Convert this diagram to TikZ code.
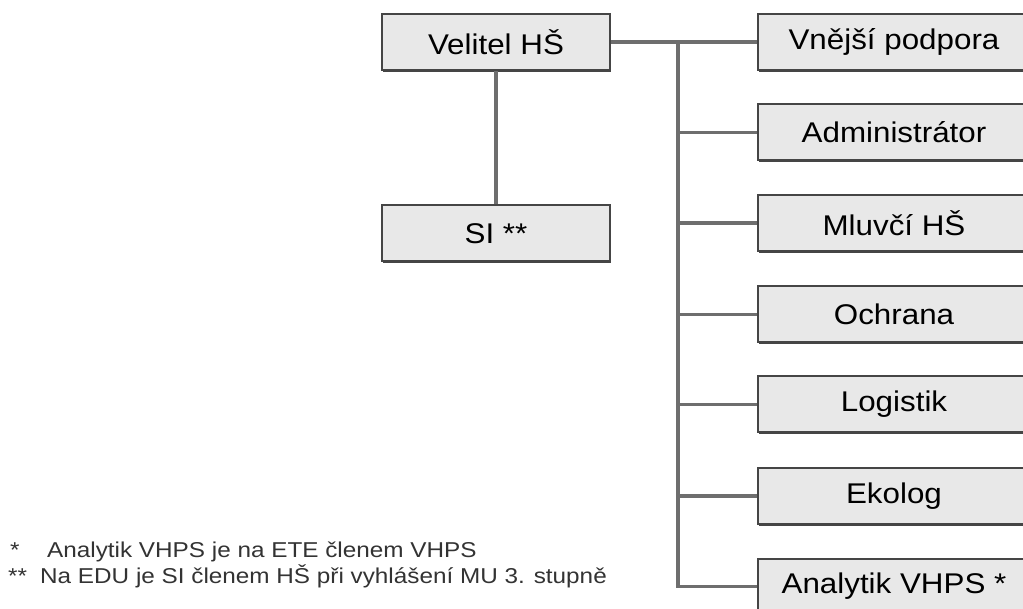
\documentclass[tikz,border=0pt]{standalone}
\usepackage{fontspec}
\setmainfont{Liberation Sans}
\usetikzlibrary{shadows}
\definecolor{boxfill}{HTML}{E8E8E8}
\definecolor{boxline}{HTML}{454545}
\definecolor{conn}{HTML}{6E6E6E}
\newcommand{\wtext}[1]{\scalebox{1.1}[1]{#1}}
\newcommand{\ntext}[1]{\scalebox{1.13}[1]{#1}}
\begin{document}
\begin{tikzpicture}[x=1pt,y=-1pt,
  orgbox/.style={draw=boxline, line width=2pt, fill=boxfill, rectangle,
    minimum height=56pt, inner sep=0pt, font=\fontsize{28.5}{30}\selectfont,
    drop shadow={opacity=1, fill=boxline, shadow xshift=0.8pt, shadow yshift=-1.8pt}},
  leftbox/.style={orgbox, minimum width=228pt},
  rightbox/.style={orgbox, minimum width=272pt},
  link/.style={draw=conn, line width=3.2pt},
  note/.style={inner sep=0pt, anchor=base west, text=black!80, font=\fontsize{21.5}{24}\selectfont}
]
\useasboundingbox (0,0) rectangle (1023,609);
\clip (0,0) rectangle (1023,609);
\fill[white] (0,0) rectangle (1023,609);

\coordinate (top) at (678,42);

\node[leftbox] (vel) at (496,42) {\wtext{Velitel HŠ}};
\node[leftbox] (si) at (496,233.5) {\wtext{SI **}};

\node[rightbox] (vnejsi) at (894,42) {\wtext{Vnější podpora}};
\node[rightbox] (admin) at (894,132.5) {\wtext{Administrátor}};
\node[rightbox] (mluvci) at (894,223) {\wtext{Mluvčí HŠ}};
\node[rightbox] (ochrana) at (894,314.5) {\wtext{Ochrana}};
\node[rightbox] (logistik) at (894,404.5) {\wtext{Logistik}};
\node[rightbox] (ekolog) at (894,496) {\wtext{Ekolog}};
\node[rightbox] (analytik) at (894,586.5) {\wtext{Analytik VHPS *}};

\draw[link] (vel.south) -- (si.north);
\draw[link] (vel.east) -- (vnejsi.west);
\draw[link] (top) |- (analytik.west);
\draw[link] (top |- admin.west) -- (admin.west);
\draw[link] (top |- mluvci.west) -- (mluvci.west);
\draw[link] (top |- ochrana.west) -- (ochrana.west);
\draw[link] (top |- logistik.west) -- (logistik.west);
\draw[link] (top |- ekolog.west) -- (ekolog.west);

\node[note] (s1) at (10,557) {\ntext{*}};
\node[note] (n1) at (47,557) {\ntext{Analytik VHPS je na ETE členem VHPS}};
\node[note] (s2) at (8,583) {\ntext{**}};
\node[note] (n2) at (40,583) {\ntext{Na EDU je SI členem HŠ při vyhlášení MU 3. stupně}};
\end{tikzpicture}
\end{document}
